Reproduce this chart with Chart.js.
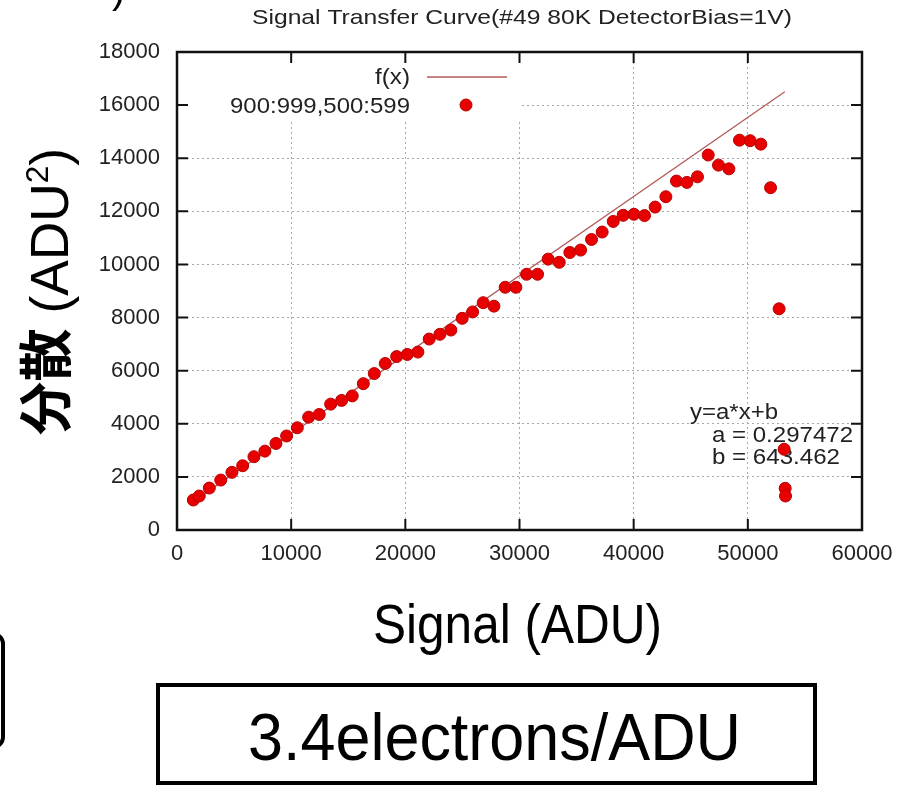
<!DOCTYPE html>
<html>
<head>
<meta charset="utf-8">
<script src="https://cdn.jsdelivr.net/npm/chart.js@4.4.1/dist/chart.umd.min.js"></script>
<style>
  html, body { margin: 0; padding: 0; background: #fff; }
  #wrap { position: relative; width: 911px; height: 788px; }
</style>
</head>
<body>
<div id="wrap"><canvas id="stc"></canvas></div>
<script>
// values
const signal = [1430, 1950, 2830, 3830, 4810, 5750, 6740, 7700, 8670, 9600,
  10540, 11530, 12460, 13460, 14420, 15350, 16320, 17280, 18240, 19240,
  20170, 21100, 22090, 23030, 23990, 24980, 25890, 26820, 27760, 28750,
  29680, 30620, 31580, 32510, 33480, 34410, 35350, 36310, 37240, 38210,
  39080, 40020, 40950, 41880, 42820, 43750, 44660, 45590, 46530, 47430,
  48340, 49270, 50200, 51140, 51990, 52740, 53180, 53270, 53300];
const variance = [1130, 1280, 1580, 1880, 2170, 2420, 2760, 2970, 3260, 3540,
  3850, 4250, 4350, 4740, 4880, 5050, 5510, 5890, 6270, 6530,
  6610, 6700, 7190, 7370, 7530, 7970, 8210, 8560, 8430, 9140,
  9140, 9630, 9630, 10200, 10080, 10450, 10540, 10940, 11220, 11620,
  11850, 11890, 11840, 12160, 12550, 13140, 13090, 13300, 14120, 13740,
  13600, 14680, 14660, 14530, 12890, 8330, 3040, 1570, 1280];
const fitX = [1400, 53240];
const fitY = [1060, 16500];
const xTicks = [0, 10000, 20000, 30000, 40000, 50000, 60000];
const yTicks = [0, 2000, 4000, 6000, 8000, 10000, 12000, 14000, 16000, 18000];

const titleText = 'Signal Transfer Curve(#49 80K DetectorBias=1V)';
const fitLabel = 'f(x)';
const dataLabel = '900:999,500:599';
const fitNotes = ['y=a*x+b', 'a = 0.297472', 'b = 643.462'];
const xTitle = 'Signal (ADU)';
const gainText = '3.4electrons/ADU';

const sans = '"Liberation Sans", Arial, sans-serif';
const cjk = '"Noto Sans CJK JP", "Noto Sans CJK SC", sans-serif';
const fitColor = '#b35a5a';
const dotColor = '#e80000';
const dotEdge = '#b80000';

const points = signal.map((x, i) => ({x: x, y: variance[i]}));
const fitLine = fitX.map((x, i) => ({x: x, y: fitY[i]}));

// draws text starting at x (left), squeezed/stretched to the given width
const stretchText = (ctx, str, x, y, width, font) => {
    ctx.font = font;
    const w = ctx.measureText(str).width;
    ctx.save();
    ctx.translate(x, y);
    ctx.scale(width / w, 1);
    ctx.textAlign = 'left';
    ctx.textBaseline = 'alphabetic';
    ctx.fillText(str, 0, 0);
    ctx.restore();
}

const decor = {
    id: 'decor',
    beforeDatasetsDraw(chart) {
        const ctx = chart.ctx;
        const a = chart.chartArea;
        ctx.save();
        // key area hides the grid like gnuplot does
        ctx.fillStyle = '#fff';
        ctx.fillRect(a.left + 1, a.top + 1, 343, 68);
        ctx.fillStyle = '#222';
        stretchText(ctx, fitNotes[0], 690, 419, 88, '22px ' + sans);
        stretchText(ctx, fitNotes[1], 712, 442, 141, '22px ' + sans);
        stretchText(ctx, fitNotes[2], 712, 464, 128, '22px ' + sans);
        ctx.restore();
    },
    afterDraw(chart) {
        const ctx = chart.ctx;
        const a = chart.chartArea;
        const xs = chart.scales.x;
        const ys = chart.scales.y;
        ctx.save();

        // frame + inward tics on all four sides
        ctx.strokeStyle = '#111';
        ctx.lineWidth = 2;
        ctx.beginPath();
        xTicks.forEach(v => {
            const px = xs.getPixelForValue(v);
            ctx.moveTo(px, a.bottom); ctx.lineTo(px, a.bottom - 11);
            ctx.moveTo(px, a.top); ctx.lineTo(px, a.top + 11);
        });
        yTicks.forEach(v => {
            const py = ys.getPixelForValue(v);
            ctx.moveTo(a.left, py); ctx.lineTo(a.left + 11, py);
            ctx.moveTo(a.right, py); ctx.lineTo(a.right - 11, py);
        });
        ctx.stroke();
        ctx.lineWidth = 2.5;
        ctx.strokeRect(a.left, a.top, a.right - a.left, a.bottom - a.top);

        // key
        ctx.fillStyle = '#222';
        stretchText(ctx, fitLabel, 375, 84, 35, '22px ' + sans);
        stretchText(ctx, dataLabel, 230, 113, 180, '22px ' + sans);
        ctx.strokeStyle = fitColor;
        ctx.lineWidth = 1.3;
        ctx.beginPath();
        ctx.moveTo(427, 77);
        ctx.lineTo(507, 77);
        ctx.stroke();
        ctx.beginPath();
        ctx.arc(466, 105, 6, 0, Math.PI * 2);
        ctx.fillStyle = dotColor;
        ctx.fill();
        ctx.strokeStyle = dotEdge;
        ctx.lineWidth = 1;
        ctx.stroke();

        // title
        ctx.fillStyle = '#222';
        stretchText(ctx, titleText, 252, 24, 540, '21px ' + sans);

        // x axis title
        ctx.fillStyle = '#000';
        stretchText(ctx, xTitle, 373, 643, 289, '56px ' + sans);

        // y axis title, rotated
        ctx.save();
        ctx.translate(68, 435);
        ctx.rotate(-Math.PI / 2);
        ctx.textAlign = 'left';
        ctx.font = 'bold 54px ' + cjk;
        const wC = ctx.measureText('分散').width;
        ctx.font = '54px ' + sans;
        const wA = ctx.measureText(' (ADU').width;
        const wP = ctx.measureText(')').width;
        ctx.font = '32px ' + sans;
        const w2 = ctx.measureText('2').width;
        const k = 287 / (wC + wA + w2 + wP);
        ctx.scale(k, 1);
        let cx = 0;
        ctx.font = 'bold 54px ' + cjk;
        ctx.fillText('分散', cx, -2); cx += wC;
        ctx.font = '54px ' + sans;
        ctx.fillText(' (ADU', cx, 0); cx += wA;
        ctx.font = '32px ' + sans;
        ctx.fillText('2', cx, -20); cx += w2;
        ctx.font = '54px ' + sans;
        ctx.fillText(')', cx, 0);
        ctx.restore();

        // gain box
        ctx.strokeStyle = '#000';
        ctx.lineWidth = 4;
        ctx.strokeRect(158, 685, 657, 98);
        stretchText(ctx, gainText, 248, 760, 493, '66px ' + sans);

        // pieces of neighbouring slide elements at the edges
        ctx.beginPath();
        ctx.roundRect(-100, 634, 103, 113, 10);
        ctx.stroke();
        ctx.font = '40px ' + sans;
        ctx.fillText(')', 112, 3);

        ctx.restore();
    }
};

const chart = new Chart(document.getElementById('stc'), {
    type: 'scatter',
    data: {
        datasets: [{
            label: dataLabel,
            data: points,
            pointRadius: 6,
            pointBackgroundColor: dotColor,
            pointBorderColor: dotEdge,
            pointBorderWidth: 1,
            order: 0
        }, {
            label: fitLabel,
            data: fitLine,
            showLine: true,
            pointRadius: 0,
            borderColor: fitColor,
            borderWidth: 1.3,
            order: 1
        }]
    },
    options: {
        responsive: true,
        maintainAspectRatio: false,
        animation: false,
        layout: {
            padding: {top: 52, right: 49, left: 0, bottom: 0}
        },
        plugins: {
            legend: {display: false},
            tooltip: {enabled: false}
        },
        scales: {
            x: {
                type: 'linear',
                min: 0,
                max: 60000,
                afterBuildTicks: s => { s.ticks = xTicks.map(v => ({value: v})); },
                afterFit: s => { s.height = 258; },
                grid: {color: '#a8a8a8', lineWidth: 1, drawTicks: false},
                border: {display: false, dash: [2, 3]},
                ticks: {
                    font: {family: sans, size: 22},
                    color: '#222',
                    padding: 11,
                    maxRotation: 0,
                    autoSkip: false,
                    callback: v => String(v)
                }
            },
            y: {
                type: 'linear',
                min: 0,
                max: 18000,
                afterBuildTicks: s => { s.ticks = yTicks.map(v => ({value: v})); },
                afterFit: s => { s.width = 177; },
                grid: {color: '#a8a8a8', lineWidth: 1, drawTicks: false},
                border: {display: false, dash: [2, 3]},
                ticks: {
                    font: {family: sans, size: 22},
                    color: '#222',
                    padding: 17,
                    autoSkip: false,
                    callback: v => String(v)
                }
            }
        }
    },
    plugins: [decor]
});
</script>
</body>
</html>
